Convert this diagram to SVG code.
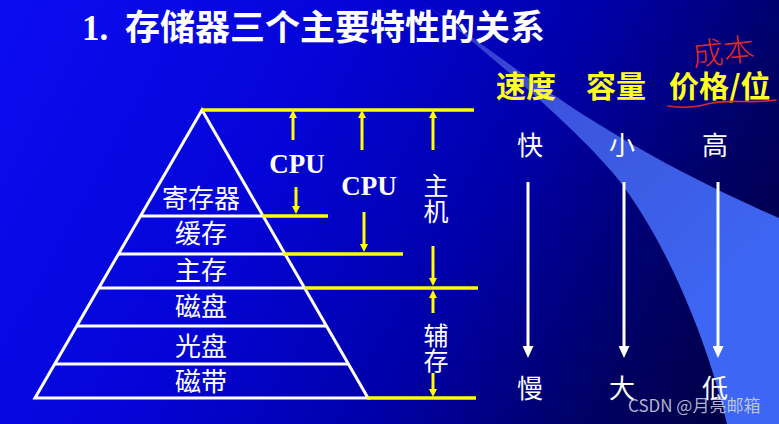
<svg xmlns="http://www.w3.org/2000/svg" width="779" height="424" viewBox="0 0 779 424">
  <defs>
    <linearGradient id="bg" gradientUnits="userSpaceOnUse" x1="0" y1="0" x2="779" y2="424">
      <stop offset="0" stop-color="#0c0cf2"/>
      <stop offset="0.35" stop-color="#0404d8"/>
      <stop offset="0.6" stop-color="#0000a8"/>
      <stop offset="0.8" stop-color="#000066"/>
      <stop offset="1" stop-color="#000038"/>
    </linearGradient>
    <linearGradient id="beam" gradientUnits="userSpaceOnUse" x1="440" y1="10" x2="720" y2="300">
      <stop offset="0" stop-color="#8a9cf0" stop-opacity="0.25"/>
      <stop offset="0.4" stop-color="#4a6af0" stop-opacity="0.8"/>
      <stop offset="1" stop-color="#3d66f5" stop-opacity="1"/>
    </linearGradient>
    <marker id="ah-y" markerUnits="userSpaceOnUse" markerWidth="8" markerHeight="8" viewBox="0 0 10 10" refX="5" refY="5" orient="auto">
      <path d="M0,0 L10,5 L0,10 z" fill="#ffff00"/>
    </marker>
    <marker id="ah-w" markerUnits="userSpaceOnUse" markerWidth="12" markerHeight="11" viewBox="0 0 12 11" refX="6" refY="5.5" orient="auto">
      <path d="M0,0 L12,5.5 L0,11 z" fill="#ffffff"/>
    </marker>
    <style>
      .tri { fill: none; stroke: #ffffff; stroke-width: 3; }
      .wl { stroke: #ffffff; stroke-width: 3; }
      .yl { stroke: #ffff00; stroke-width: 3.5; fill: none; }
      .ya { stroke: #ffff00; stroke-width: 3; fill: none; marker-end: url(#ah-y); }
      .wa { stroke: #ffffff; stroke-width: 3; fill: none; marker-end: url(#ah-w); }
      .cjk { font-family: "Noto Sans CJK SC", "Noto Sans", sans-serif; }
      .lbl { font-family: "Noto Sans CJK SC", "Noto Sans", sans-serif; font-size: 26px; fill: #ffffff; text-anchor: middle; }
      .vlbl { font-family: "Noto Sans CJK SC", "Noto Sans", sans-serif; font-size: 25px; fill: #ffffff; text-anchor: middle; }
      .cpu { font-family: "Liberation Serif", "Times New Roman", serif; font-weight: bold; font-size: 27px; fill: #ffffff; text-anchor: middle; }
      .hdr { font-family: "Noto Sans CJK SC", "Noto Sans", sans-serif; font-weight: bold; font-size: 30px; fill: #ffff22; }
    </style>
  </defs>

  <g id="background">
    <rect x="0" y="0" width="779" height="424" fill="url(#bg)"/>
    <path d="M420,0 C520,70 600,140 779,218 L779,424 L727,424 C705,330 660,230 613,173 C575,128 480,45 420,0 Z" fill="url(#beam)"/>
  </g>

  <g id="title">
    <text y="40" fill="#ffffff" font-weight="bold"><tspan x="82" font-family="Liberation Serif, serif" font-size="35">1.</tspan><tspan x="125" font-family="Noto Sans CJK SC, Noto Sans, sans-serif" font-size="35">存储器三个主要特性的关系</tspan></text>
  </g>

  <g id="pyramid">
    <polygon class="tri" points="202,110 35,398 368,398"/>
    <line class="wl" x1="140.5" y1="216" x2="263.1" y2="216"/>
    <line class="wl" x1="118.5" y1="254" x2="285" y2="254"/>
    <line class="wl" x1="98.8" y1="288" x2="304.6" y2="288"/>
    <line class="wl" x1="76.7" y1="326" x2="326.5" y2="326"/>
    <line class="wl" x1="54.7" y1="364" x2="348.4" y2="364"/>
  </g>

  <g id="layer-register"><text class="lbl" x="201" y="208">寄存器</text></g>
  <g id="layer-cache"><text class="lbl" x="201" y="243">缓存</text></g>
  <g id="layer-main"><text class="lbl" x="201" y="280">主存</text></g>
  <g id="layer-disk"><text class="lbl" x="201" y="316">磁盘</text></g>
  <g id="layer-optical"><text class="lbl" x="201" y="356">光盘</text></g>
  <g id="layer-tape"><text class="lbl" x="201" y="391">磁带</text></g>

  <g id="connectors">
    <path class="yl" d="M202,110 H474"/>
    <path class="yl" d="M262,216 H328"/>
    <path class="yl" d="M283,254 H403"/>
    <path class="yl" d="M305,288 H478"/>
    <path class="yl" d="M367,398 H476"/>
    <line class="ya" x1="293" y1="140" x2="293" y2="114"/>
    <line class="ya" x1="296" y1="187" x2="296" y2="210"/>
    <line class="ya" x1="362" y1="150" x2="362" y2="114"/>
    <line class="ya" x1="364" y1="212" x2="364" y2="248"/>
    <line class="ya" x1="433" y1="150" x2="433" y2="114"/>
    <line class="ya" x1="433" y1="246" x2="433" y2="282"/>
    <line class="ya" x1="433" y1="313" x2="433" y2="294"/>
    <line class="ya" x1="433" y1="373" x2="433" y2="393"/>
    <line class="wa" x1="528" y1="182" x2="528" y2="352"/>
    <line class="wa" x1="624" y1="182" x2="624" y2="352"/>
    <line class="wa" x1="718" y1="182" x2="718" y2="352"/>
  </g>

  <g id="label-cpu1"><text class="cpu" x="297" y="173">CPU</text></g>
  <g id="label-cpu2"><text class="cpu" x="369" y="195">CPU</text></g>
  <g id="label-host"><text class="vlbl" x="436" y="195">主</text><text class="vlbl" x="436" y="221">机</text></g>
  <g id="label-aux"><text class="vlbl" x="436" y="345">辅</text><text class="vlbl" x="436" y="370">存</text></g>

  <g id="header-speed"><text class="hdr" x="496" y="97">速度</text></g>
  <g id="header-capacity"><text class="hdr" x="586" y="97">容量</text></g>
  <g id="header-price"><text class="hdr" x="669" y="97">价格/位</text></g>

  <g id="annotation">
    <text x="692" y="64" class="cjk" font-size="31" font-weight="300" fill="#e02828" transform="rotate(-6 712 50)">成本</text>
    <path d="M668,106 C688,109 700,106 712,103 C730,99 750,104 776,100" fill="none" stroke="#e02828" stroke-width="1.6" stroke-linecap="round"/>
  </g>

  <g id="speed-col"><text class="lbl" x="530" y="155">快</text><text class="lbl" x="530" y="398">慢</text></g>
  <g id="capacity-col"><text class="lbl" x="622" y="155">小</text><text class="lbl" x="622" y="398">大</text></g>
  <g id="price-col"><text class="lbl" x="715" y="155">高</text><text class="lbl" x="715" y="398">低</text></g>

  <g id="watermark">
    <text x="628" y="412" font-family="Noto Sans CJK SC, Noto Sans, sans-serif" font-size="17" fill="#d4d6e0" fill-opacity="0.85">CSDN @月亮邮箱</text>
  </g>
</svg>
